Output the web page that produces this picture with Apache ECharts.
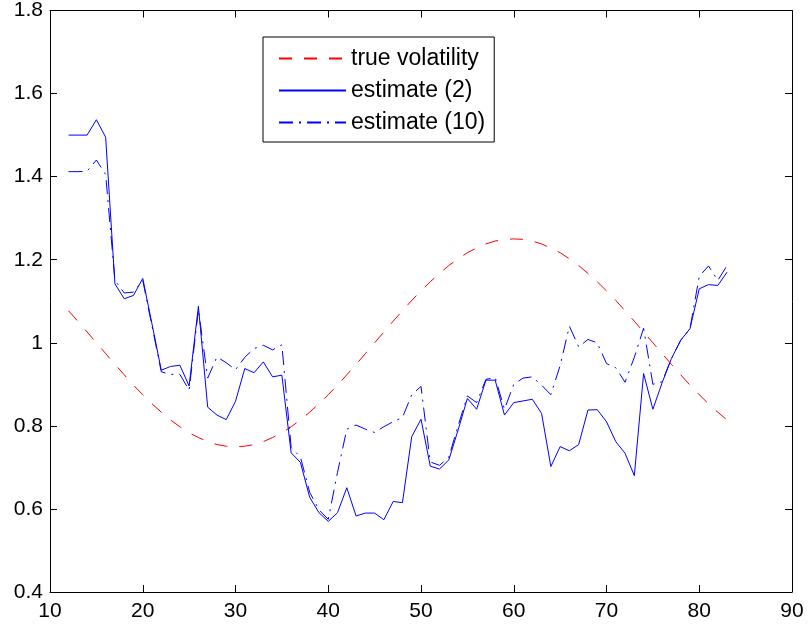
<!DOCTYPE html>
<html><head><meta charset="utf-8">
<script src="https://cdn.jsdelivr.net/npm/echarts@6/dist/echarts.min.js"></script>
<style>html,body{margin:0;padding:0;background:#fff}#c{width:808px;height:632px}</style>
</head><body><div id="c"></div>
<script>
const steps = [12,13,14,15,16,17,18,19,20,21,22,23,24,25,26,27,28,29,30,31,32,33,34,35,36,37,38,39,40,41,42,43,44,45,46,47,48,49,50,51,52,53,54,55,56,57,58,59,60,61,62,63,64,65,66,67,68,69,70,71,72,73,74,75,76,77,78,79,80,81,82,83];
const trueVolatility = [1.077,1.052,1.026,1.000,0.974,0.948,0.923,0.898,0.875,0.853,0.833,0.814,0.798,0.783,0.772,0.762,0.755,0.751,0.750,0.751,0.755,0.762,0.772,0.783,0.798,0.814,0.833,0.853,0.875,0.898,0.923,0.948,0.974,1.000,1.026,1.052,1.077,1.102,1.125,1.147,1.167,1.186,1.202,1.217,1.228,1.238,1.245,1.249,1.250,1.249,1.245,1.238,1.228,1.217,1.202,1.186,1.167,1.147,1.125,1.102,1.077,1.052,1.026,1.000,0.974,0.948,0.923,0.898,0.875,0.853,0.833,0.814];
const estimate2 = [1.500,1.500,1.500,1.537,1.495,1.142,1.106,1.114,1.155,1.045,0.934,0.943,0.946,0.896,1.088,0.845,0.826,0.815,0.859,0.938,0.928,0.954,0.918,0.922,0.735,0.712,0.628,0.591,0.570,0.591,0.651,0.583,0.590,0.590,0.574,0.618,0.615,0.774,0.816,0.703,0.696,0.718,0.790,0.866,0.840,0.910,0.910,0.826,0.856,0.860,0.864,0.830,0.702,0.750,0.740,0.755,0.838,0.839,0.810,0.762,0.734,0.680,0.926,0.840,0.904,0.962,1.006,1.034,1.130,1.140,1.138,1.170];
const estimate10 = [1.412,1.412,1.413,1.440,1.405,1.150,1.120,1.122,1.150,1.040,0.930,0.924,0.924,0.886,1.080,0.915,0.966,0.952,0.935,0.965,0.986,0.994,0.983,0.995,0.748,0.725,0.640,0.598,0.575,0.688,0.792,0.802,0.792,0.784,0.798,0.810,0.820,0.875,0.895,0.713,0.705,0.725,0.800,0.872,0.856,0.912,0.916,0.840,0.900,0.915,0.918,0.898,0.875,0.945,1.040,0.990,1.008,1.000,0.950,0.940,0.905,0.965,1.035,0.900,0.906,0.962,1.006,1.034,1.160,1.185,1.150,1.186];
const xTicks = [10,20,30,40,50,60,70,80,90];
const yTicks = [0.4,0.6,0.8,1.0,1.2,1.4,1.6,1.8];
const seriesNames = ['true volatility','estimate (2)','estimate (10)'];

const FONT = 'Liberation Sans';
const pairs = arr => steps.map((x, i) => [x, arr[i]]);
const axisCommon = {
  axisLine: {show: true, onZero: false, lineStyle: {color: '#000', width: 1}},
  axisTick: {show: true, inside: true, length: 7, lineStyle: {color: '#000', width: 1}},
  splitLine: {show: false}
};
const xMin = xTicks[0], xMax = xTicks[xTicks.length - 1], xInt = xTicks[1] - xTicks[0];
const yMin = yTicks[0], yMax = yTicks[yTicks.length - 1], yInt = 0.2;
const lbl = v => String(+v.toFixed(1));

const chart = echarts.init(document.getElementById('c'), null, {renderer: 'canvas'});
chart.setOption({
  animation: false,
  backgroundColor: '#fff',
  grid: {left: 50, right: 16, top: 7, bottom: 40, containLabel: false},
  xAxis: [
    Object.assign({type: 'value', min: xMin, max: xMax, interval: xInt, position: 'bottom',
      axisLabel: {color: '#000', fontSize: 21, fontFamily: FONT, margin: 9}}, axisCommon),
    Object.assign({type: 'value', min: xMin, max: xMax, interval: xInt, position: 'top',
      axisLabel: {show: false}}, axisCommon)
  ],
  yAxis: [
    Object.assign({type: 'value', min: yMin, max: yMax, interval: yInt, position: 'left',
      axisLabel: {color: '#000', fontSize: 21, fontFamily: FONT, margin: 7, formatter: lbl}}, axisCommon),
    Object.assign({type: 'value', min: yMin, max: yMax, interval: yInt, position: 'right',
      axisLabel: {show: false}}, axisCommon)
  ],
  legend: {
    show: true, orient: 'vertical', left: 263, top: 37,
    backgroundColor: '#fff', borderColor: '#000', borderWidth: 1, borderRadius: 0,
    padding: [10, 9, 8, 15], itemWidth: 67, itemHeight: 14, itemGap: 9,
    itemStyle: {opacity: 0, borderWidth: 0},
    textStyle: {fontSize: 23, fontFamily: FONT, color: '#000'},
    data: seriesNames
  },
  series: [
    {name: seriesNames[0], type: 'line', symbol: 'none', data: pairs(trueVolatility),
      lineStyle: {color: '#ff0000', width: 1, type: [13, 12]}, itemStyle: {color: '#ff0000'}},
    {name: seriesNames[1], type: 'line', symbol: 'none', data: pairs(estimate2),
      lineStyle: {color: '#0000ff', width: 1, type: 'solid'}, itemStyle: {color: '#0000ff'}},
    {name: seriesNames[2], type: 'line', symbol: 'none', data: pairs(estimate10),
      lineStyle: {color: '#0000ff', width: 1, type: [14, 6, 2, 6]}, itemStyle: {color: '#0000ff'}}
  ]
});
</script>
</body></html>
